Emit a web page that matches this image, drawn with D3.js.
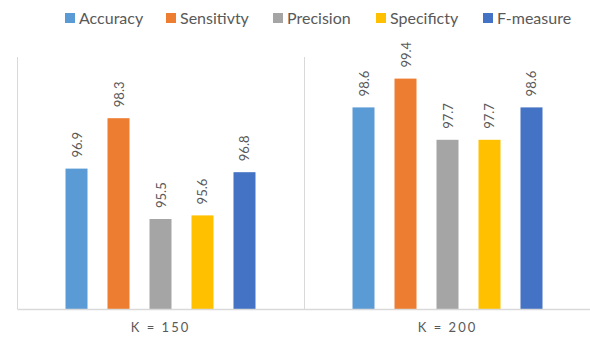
<!DOCTYPE html>
<html>
<head>
<meta charset="utf-8">
<script src="https://cdn.jsdelivr.net/npm/d3@7"></script>
<style>
  html, body { margin: 0; padding: 0; background: #fff; }
  svg { display: block; font-family: Lato, "Open Sans", sans-serif; }
</style>
</head>
<body>
<svg id="chart" width="590" height="341"></svg>
<script>
// Groups, series names and measured values (%)
const groups = ["K = 150", "K = 200"];
const seriesNames = ["Accuracy", "Sensitivty", "Precision", "Specificty", "F-measure"];
const accuracy = [96.9, 98.6];
const sensitivity = [98.3, 99.4];
const precision = [95.5, 97.7];
const specificity = [95.6, 97.7];
const fMeasure = [96.8, 98.6];
const colors = ["#5b9bd5", "#ed7d31", "#a5a5a5", "#ffc000", "#4472c4"];
const yDomain = [93, 100];

const seriesValues = [accuracy, sensitivity, precision, specificity, fMeasure];

const svg = d3.select("#chart");
const plot = { left: 17, right: 591, top: 57, bottom: 309 };

const x0 = d3.scaleBand().domain(groups).range([plot.left, plot.right]).padding(0);
const x1 = d3.scaleBand().domain(seriesNames).range([0, x0.bandwidth()])
  .paddingInner(20 / 42).paddingOuter(1.155);
const y = d3.scaleLinear().domain(yDomain).range([plot.bottom, plot.top]);

// Vertical dividers at group boundaries
const boundaries = groups.map(g => x0(g));
svg.append("g").selectAll("line").data(boundaries).join("line")
  .attr("x1", d => d + 0.5).attr("x2", d => d + 0.5)
  .attr("y1", plot.top).attr("y2", plot.bottom)
  .attr("stroke", "#d9d9d9").attr("stroke-width", 1);

// Bars
const groupG = svg.append("g").selectAll("g").data(groups).join("g")
  .attr("transform", g => `translate(${x0(g)},0)`);

groupG.selectAll("rect")
  .data((g, gi) => seriesNames.map((s, si) => ({ s, si, v: seriesValues[si][gi] })))
  .join("rect")
  .attr("x", d => x1(d.s))
  .attr("width", x1.bandwidth())
  .attr("y", d => y(d.v))
  .attr("height", d => plot.bottom - y(d.v))
  .attr("fill", d => colors[d.si]);

// Rotated value labels
groupG.selectAll("text.val")
  .data((g, gi) => seriesNames.map((s, si) => ({ s, si, v: seriesValues[si][gi] })))
  .join("text")
  .attr("class", "val")
  .attr("transform", d => `translate(${x1(d.s) + x1.bandwidth() / 2 + 5},${y(d.v) - 11}) rotate(-90)`)
  .attr("font-size", 13)
  .attr("fill", "#595959")
  .text(d => d.v.toFixed(1));

// Baseline axis
const xAxis = svg.append("g").attr("transform", `translate(0,${plot.bottom})`)
  .call(d3.axisBottom(x0).tickSize(0).tickPadding(14));
xAxis.select(".domain").attr("stroke", "#d9d9d9").attr("stroke-width", 1.5);
xAxis.selectAll("text")
  .attr("font-family", "Lato, 'Open Sans', sans-serif")
  .attr("font-size", 13)
  .attr("letter-spacing", "2px")
  .attr("fill", "#595959");

// Legend
const legendX = [65, 166, 273, 376, 483];
const legend = svg.append("g").selectAll("g").data(seriesNames).join("g")
  .attr("transform", (d, i) => `translate(${legendX[i]},13)`);
legend.append("rect").attr("width", 10).attr("height", 10)
  .attr("fill", (d, i) => colors[i]);
legend.append("text").attr("x", 14).attr("y", 10.5)
  .attr("font-size", 16).attr("fill", "#595959").text(d => d);
</script>
</body>
</html>
